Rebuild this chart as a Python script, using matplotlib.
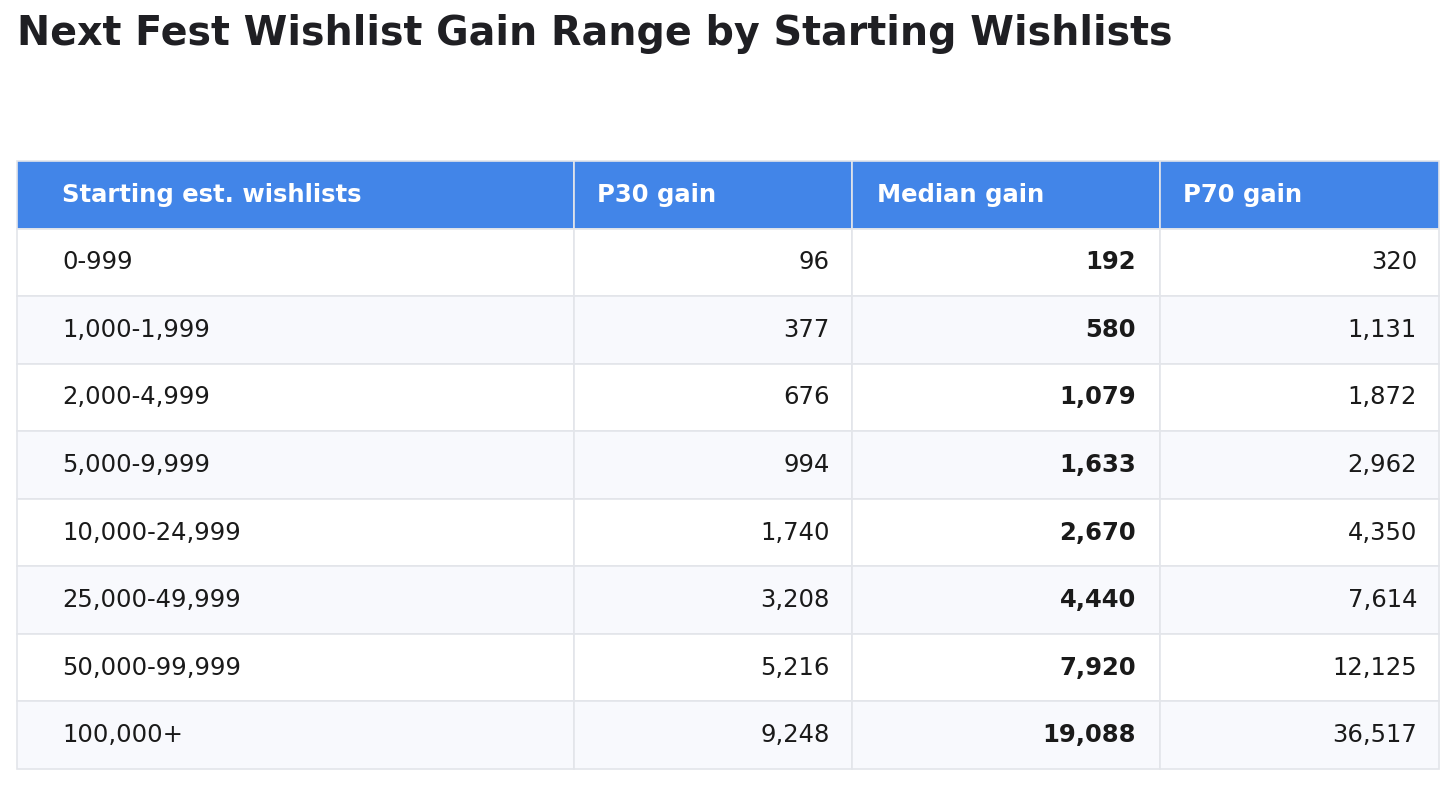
import matplotlib
matplotlib.use("Agg")
import matplotlib.pyplot as plt
from matplotlib.patches import Rectangle

title = "Next Fest Wishlist Gain Range by Starting Wishlists"
columns = ["Starting est. wishlists", "P30 gain", "Median gain", "P70 gain"]
ranges = ["0-999", "1,000-1,999", "2,000-4,999", "5,000-9,999",
          "10,000-24,999", "25,000-49,999", "50,000-99,999", "100,000+"]
p30 = [96, 377, 676, 994, 1740, 3208, 5216, 9248]
median = [192, 580, 1079, 1633, 2670, 4440, 7920, 19088]
p70 = [320, 1131, 1872, 2962, 4350, 7614, 12125, 36517]

W, H = 1456, 786
fig = plt.figure(figsize=(W / 100, H / 100), dpi=100)
fig.patch.set_facecolor("white")

fig.text(17 / W, 1 - 34 / H, title, fontsize=28.5, fontweight="bold",
         color="#1f1f23", ha="left", va="center", family="DejaVu Sans")

left, right, top, bottom = 17, 1439, 161, 769
ax = fig.add_axes([left / W, 1 - bottom / H, (right - left) / W, (bottom - top) / H])
tw = right - left
ax.set_xlim(0, tw)
nrows = len(ranges)
ax.set_ylim(nrows + 1, 0)
ax.axis("off")

col_edges = [0, 574 - left, 852 - left, 1160 - left, tw]
header_pads = [45, 23, 25, 23]
right_pads = [0, 22, 24, 22]
header_color = "#4285e8"
border = "#e3e5ea"
alt = "#f8f9fd"
txt = "#1a1a1a"
fs = 17.5

# header
for j, name in enumerate(columns):
    x0, x1 = col_edges[j], col_edges[j + 1]
    ax.add_patch(Rectangle((x0, 0), x1 - x0, 1, facecolor=header_color,
                           edgecolor=border, linewidth=1.2, clip_on=False))
    ax.text(x0 + header_pads[j], 0.5, name, color="white", fontsize=fs,
            fontweight="bold", ha="left", va="center")

fmt = lambda v: f"{v:,}"
for i in range(nrows):
    y = i + 1
    bg = "white" if i % 2 == 0 else alt
    vals = [ranges[i], fmt(p30[i]), fmt(median[i]), fmt(p70[i])]
    for j, v in enumerate(vals):
        x0, x1 = col_edges[j], col_edges[j + 1]
        ax.add_patch(Rectangle((x0, y), x1 - x0, 1, facecolor=bg,
                               edgecolor=border, linewidth=1.2, clip_on=False))
        if j == 0:
            ax.text(x0 + 45, y + 0.5, v, color=txt, fontsize=fs,
                    ha="left", va="center")
        else:
            ax.text(x1 - right_pads[j], y + 0.5, v, color=txt, fontsize=fs,
                    fontweight="bold" if j == 2 else "normal",
                    ha="right", va="center")

fig.savefig("out.png", dpi=100, facecolor="white")
